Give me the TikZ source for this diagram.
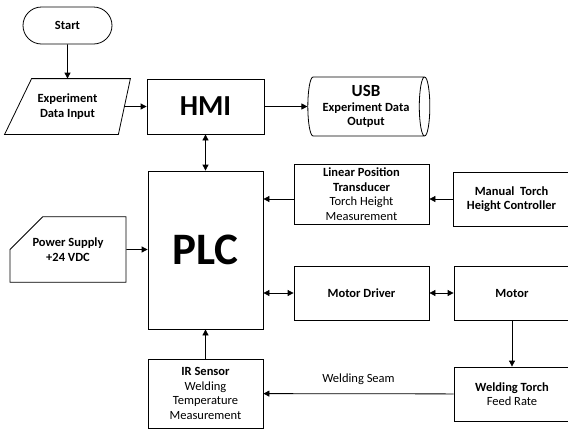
\documentclass[tikz,border=0pt]{standalone}
\usepackage{fontspec}
\setmainfont{Carlito}
\usetikzlibrary{arrows.meta, shapes.geometric, shapes.misc}

\tikzset{
  block/.style={draw, thick, fill=white, inner sep=0pt, align=center,
    font=\fontsize{12.5}{14.5}\selectfont},
  conn/.style={thick, -{Triangle[length=6pt,width=6pt]}},
  dconn/.style={thick, {Triangle[length=6pt,width=6pt]}-{Triangle[length=6pt,width=6pt]}}
}

\begin{document}
\begin{tikzpicture}[x=1pt,y=-1pt]
% Page is the size of the reference
\useasboundingbox (0,0) rectangle (568,432);
\clip (0,0) rectangle (568,432);
% Top row
\node [block, rounded rectangle, minimum width=89, minimum height=37]
  (start) at (67.5,25.5) {\textbf{Start}};
% Input slab: text node, outline drawn from its corners
\node [block, draw=none, fill=none, minimum width=125, minimum height=55]
  (input) at (67.5,106.5) {\textbf{Experiment}\\\textbf{Data Input}};
\draw [thick] ([xshift=27pt]input.north west) -- (input.north east)
  -- ([xshift=-12pt]input.south east) -- (input.south west) -- cycle;
\node [block, minimum width=117, minimum height=55, font=\fontsize{29}{32}\selectfont\bfseries]
  (hmi) at (205.5,106.5) {HMI};
\node [block, cylinder, aspect=0.25, minimum width=59, minimum height=122]
  (usb) at (366,106.5) {{\fontsize{17}{19}\selectfont\textbf{USB}}\\\textbf{Experiment Data}\\\textbf{Output}};
% PLC and the blocks round it
\node [block, minimum width=115, minimum height=158, font=\fontsize{45}{50}\selectfont\bfseries]
  (plc) at (205.5,250) {PLC};
\node [block, minimum width=135, minimum height=60]
  (lpt) at (361.5,194) {\textbf{Linear Position}\\\textbf{Transducer}\\Torch Height\\Measurement};
\node [block, minimum width=117, minimum height=54]
  (manual) at (511.5,199) {\textbf{Manual\ \ Torch}\\\textbf{Height Controller}};
\node [block, chamfered rectangle, chamfered rectangle corners=north west,
  chamfered rectangle xsep=23, chamfered rectangle ysep=21,
  minimum width=116, minimum height=55]
  (power) at (68,249.5) {\textbf{Power Supply}\\\textbf{+24 VDC}};
\node [block, minimum width=135, minimum height=54]
  (driver) at (361.5,293) {\textbf{Motor Driver}};
\node [block, minimum width=116, minimum height=54]
  (motor) at (512,293) {\textbf{Motor}};
% Bottom row
\node [block, minimum width=116, minimum height=54]
  (torch) at (512,394) {\textbf{Welding Torch}\\Feed Rate};
\node [block, minimum width=115, minimum height=69]
  (ir) at (205.5,393.5) {\textbf{IR Sensor}\\Welding\\Temperature\\Measurement};
% Connectors
\draw [conn] (start) -- (input.north -| start);
\draw [conn] ([xshift=-6pt]input.east) -- (hmi);
\draw [conn] (hmi) -- (usb);
\draw [dconn] (hmi) -- (plc);
\draw [conn] (manual) -- (manual -| lpt.east);
\draw [conn] (lpt.west |- manual) -- (plc.east |- manual);
\draw [conn] (power) -- (power -| plc.west);
\draw [dconn] (plc.east |- driver) -- (driver);
\draw [dconn] (driver) -- (motor);
\draw [conn] (motor) -- (torch);
\draw [conn] (torch) -- node [above=5pt, font=\fontsize{12.5}{14.5}\selectfont] {Welding Seam} (ir);
\draw [conn] (ir) -- (plc);
\end{tikzpicture}
\end{document}
